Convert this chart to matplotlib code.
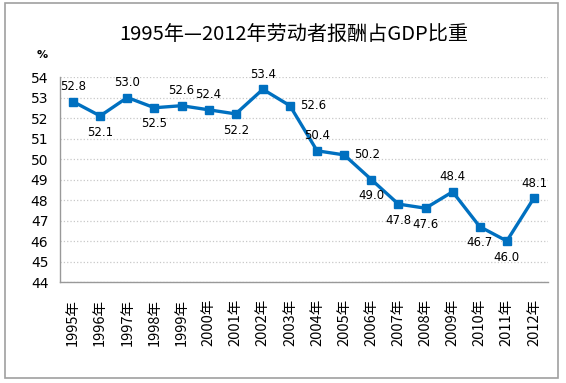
import matplotlib
matplotlib.use('Agg')
import matplotlib.pyplot as plt
import matplotlib.patches as mpatches
import numpy as np

plt.rcParams['font.family'] = ['Noto Sans CJK SC', 'DejaVu Sans']

years = ['1995年', '1996年', '1997年', '1998年', '1999年', '2000年', '2001年', '2002年', '2003年',
         '2004年', '2005年', '2006年', '2007年', '2008年', '2009年', '2010年', '2011年', '2012年']
share = [52.8, 52.1, 53.0, 52.5, 52.6, 52.4, 52.2, 53.4, 52.6,
         50.4, 50.2, 49.0, 47.8, 47.6, 48.4, 46.7, 46.0, 48.1]
# where each value label sits relative to its point
label_pos = ['a', 'b', 'a', 'b', 'a', 'a', 'b', 'a', 'r',
             'a', 'r', 'b', 'b', 'b', 'a', 'b', 'b', 'a']

fig = plt.figure(figsize=(5.66, 3.83), dpi=100)
fig.patches.append(mpatches.Rectangle((5/566, 1-378/383), 553/566, 375/383, transform=fig.transFigure,
                                      fill=False, edgecolor='#a0a0a0', linewidth=1.2))

ax = fig.add_axes([59.5/566, 1-282/383, 488/566, 205/383])
x = np.arange(len(years))
ax.plot(x, share, color='#0070C0', linewidth=2.4, marker='s', markersize=5.5, zorder=3)

for xi, v, p in zip(x, share, label_pos):
    txt = '%.1f' % v
    if p == 'a':
        ax.annotate(txt, (xi, v), xytext=(0, 6), textcoords='offset points', ha='center', va='bottom', fontsize=8.5, family='DejaVu Sans')
    elif p == 'b':
        ax.annotate(txt, (xi, v), xytext=(0, -7), textcoords='offset points', ha='center', va='top', fontsize=8.5, family='DejaVu Sans')
    else:
        ax.annotate(txt, (xi, v), xytext=(7, 0), textcoords='offset points', ha='left', va='center', fontsize=8.5, family='DejaVu Sans')

ax.set_xlim(-0.5, len(years)-0.5)
ax.set_ylim(44, 54)
ax.set_yticks(np.arange(44, 55, 1))
ax.set_xticks(x)
ax.set_xticklabels(years, rotation=90, fontsize=10.5)
ax.tick_params(axis='y', labelsize=10, length=0, pad=8)
ax.tick_params(axis='x', length=0, pad=12)
for lab in ax.get_yticklabels():
    lab.set_family('DejaVu Sans')

ax.grid(axis='y', color='#c8c8c8', linestyle=':', linewidth=0.9)
ax.set_axisbelow(True)
for s in ['top', 'right']:
    ax.spines[s].set_visible(False)
for s in ['left', 'bottom']:
    ax.spines[s].set_color('#999999')
    ax.spines[s].set_linewidth(1.0)

fig.text(294/566, 1-35/383, '1995年—2012年劳动者报酬占GDP比重', ha='center', va='center', fontsize=14.5)
fig.text(42/566, 1-55/383, '%', ha='center', va='center', fontsize=8, fontweight='bold', family='DejaVu Sans')

fig.savefig('out.png', dpi=100)
